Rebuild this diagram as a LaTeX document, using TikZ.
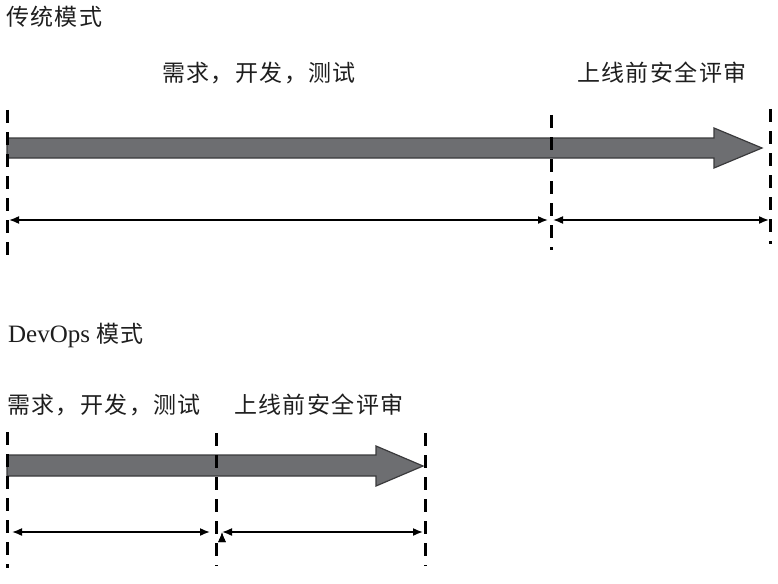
\documentclass[tikz,border=0pt]{standalone}
\usepackage{fontspec}
\setmainfont{Liberation Serif}
\newfontfamily\cjk[LetterSpace=6]{Noto Sans CJK SC}
\usepackage{tikz}
\usetikzlibrary{arrows.meta, positioning}
\definecolor{bargray}{HTML}{6D6E71}
\definecolor{bardark}{HTML}{3A3A3C}
\definecolor{textdark}{HTML}{1E1E1E}

\begin{document}
\begin{tikzpicture}[x=1pt,y=-1pt]
    \tikzstyle{phase}=[anchor=west,inner sep=0pt,text=textdark,font=\fontsize{23}{26}\selectfont\cjk]
    \tikzstyle{heading}=[anchor=west,inner sep=0pt,text=textdark,font=\fontsize{25}{28}\selectfont]
    \tikzstyle{stageline}=[draw=black,line width=3pt,dash pattern=on 13pt off 9pt]
    \tikzstyle{bar}=[draw=bardark,line width=1.2pt,fill=bargray]
    \tikzstyle{span}=[draw=black,line width=1.6pt,{Latex[length=10pt,width=8pt]}-{Latex[length=10pt,width=8pt]}]

    \useasboundingbox (0,0) rectangle (778,583);

    % traditional mode
    \node[phase] (T0) at (6,17) {传统模式};
    \node[phase] (T1) at (162,73) {需求，开发，测试};
    \node[phase] (T2) at (577,73) {上线前安全评审};

    \coordinate (A1) at (7,110);  \coordinate (A2) at (7,255);
    \coordinate (B1) at (551,115); \coordinate (B2) at (551,250);
    \coordinate (C1) at (770,109); \coordinate (C2) at (770,244);

    \path[bar] (7,138) -- (714,138) -- (714,128) -- (762,148)
        -- (714,168) -- (714,158) -- (7,158) -- cycle;

    \coordinate (P1) at (9,220);   \coordinate (P2) at (548,220);
    \coordinate (P3) at (553,220); \coordinate (P4) at (769,220);

    % devops mode
    \node[heading] (D0) at (8,335) {DevOps {\fontsize{23}{26}\selectfont\cjk 模式}};
    \node[phase] (D1) at (7,405) {需求，开发，测试};
    \node[phase] (D2) at (234,405) {上线前安全评审};

    \coordinate (E1) at (7,432);   \coordinate (E2) at (7,568);
    \coordinate (F1) at (216,433); \coordinate (F2) at (216,566);
    \coordinate (G1) at (425,433); \coordinate (G2) at (425,566);

    \path[bar] (7,455) -- (376,455) -- (376,446) -- (423,466)
        -- (376,486) -- (376,476) -- (7,476) -- cycle;

    \coordinate (Q1) at (12,532);  \coordinate (Q2) at (210,532);
    \coordinate (Q3) at (222,532); \coordinate (Q4) at (423,532);

    \path[stageline]
    (A1) edge (A2)
    (B1) edge (B2)
    (C1) edge (C2)
    (E1) edge (E2)
    (F1) edge (F2)
    (G1) edge (G2)
    ;

    \path[span]
    (P1) edge (P2)
    (P3) edge (P4)
    (Q1) edge (Q2)
    (Q3) edge (Q4)
    ;
\end{tikzpicture}
\end{document}
